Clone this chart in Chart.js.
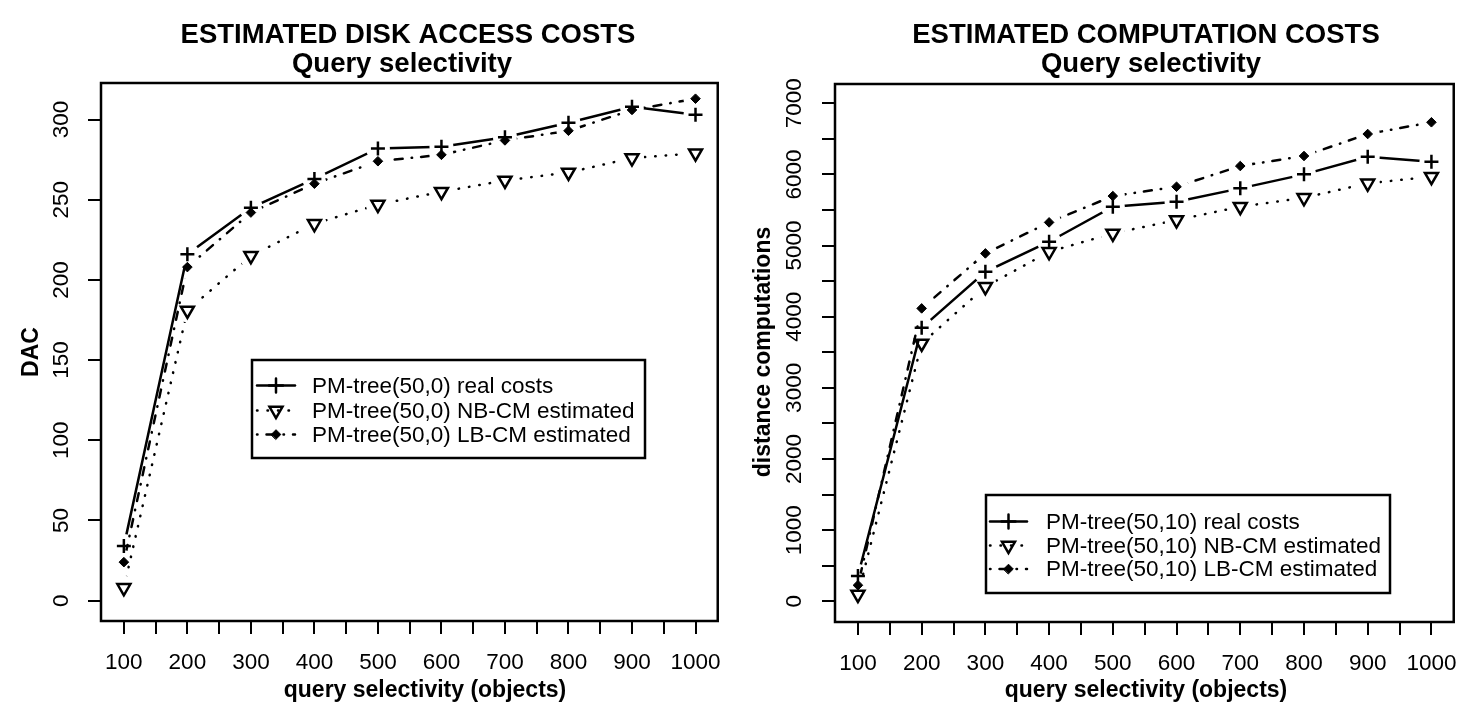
<!DOCTYPE html>
<html>
<head>
<meta charset="utf-8">
<script src="https://cdn.jsdelivr.net/npm/chart.js@4.4.1/dist/chart.umd.min.js"></script>
<style>
  html, body { margin: 0; padding: 0; background: #fff; }
  .panel { position: absolute; top: 0; width: 736px; height: 728px; }
</style>
</head>
<body>
<div class="panel" style="left:0"><canvas id="dacChart" width="736" height="728"></canvas></div>
<div class="panel" style="left:736px"><canvas id="compChart" width="736" height="728"></canvas></div>
<script>
// query selectivity (objects)
const selectivity = [100, 200, 300, 400, 500, 600, 700, 800, 900, 1000];
const xTickValues = [100, 150, 200, 250, 300, 350, 400, 450, 500, 550, 600, 650, 700, 750, 800, 850, 900, 950, 1000];

// disk access costs
const dacReal = [34, 216, 245, 263, 282, 283, 289, 298, 308, 303];
const dacNB   = [8, 181, 215, 235, 247, 255, 262, 267, 276, 279];
const dacLB   = [24, 208, 242, 260, 274, 278, 287, 293, 306, 313];
const dacTicks = [0, 50, 100, 150, 200, 250, 300];

// distance computations
const compReal = [356, 3844, 4631, 5054, 5546, 5616, 5804, 6001, 6249, 6179];
const compNB   = [94, 3624, 4421, 4913, 5171, 5359, 5546, 5672, 5875, 5968];
const compLB   = [225, 4117, 4890, 5326, 5696, 5827, 6118, 6259, 6568, 6733];
const compTicks = [0, 500, 1000, 1500, 2000, 2500, 3000, 3500, 4000, 4500, 5000, 5500, 6000, 6500, 7000];

Chart.defaults.font.family = '"Liberation Sans", Arial, Helvetica, sans-serif';
Chart.defaults.color = '#000';

const styles = {
    real: { dash: [], pointStyle: 'cross', radius: 7, rotation: 0, fill: 'rgba(0,0,0,0)', markerWidth: 2.5 },
    nb:   { dash: [0.5, 10], pointStyle: 'triangle', radius: 7.5, rotation: 180, fill: 'rgba(0,0,0,0)', markerWidth: 2.5 },
    lb:   { dash: [0.5, 9, 8, 9], pointStyle: 'rectRot', radius: 4.8, rotation: 0, fill: '#000', markerWidth: 1 }
};

// R type="b": line with gaps around points, then the markers
const makeSeries = (label, values, st) => {
    const pts = selectivity.map((x, i) => ({ x: x, y: values[i] }));
    return [
        {
            label: label, role: 'line', data: pts, style: st,
            borderColor: '#000', borderWidth: 2.5, borderDash: st.dash, borderCapStyle: 'round',
            pointRadius: 0, pointHoverRadius: 0, tension: 0, fill: false, gapRadius: 12
        },
        {
            label: label, role: 'marker', data: pts, showLine: false,
            pointStyle: st.pointStyle, pointRadius: st.radius, pointHoverRadius: st.radius,
            pointRotation: st.rotation, pointBorderColor: '#000', pointBackgroundColor: st.fill,
            pointBorderWidth: st.markerWidth
        }
    ];
};

const gapPlugin = {
    id: 'lineGaps',
    beforeDatasetDraw(chart, args) {
        const ds = chart.data.datasets[args.index];
        if (!ds.gapRadius) return;
        const ctx = chart.ctx;
        ctx.save();
        ctx.beginPath();
        ctx.rect(0, 0, chart.width, chart.height);
        args.meta.data.forEach(p => {
            ctx.moveTo(p.x + ds.gapRadius, p.y);
            ctx.arc(p.x, p.y, ds.gapRadius, 0, Math.PI * 2);
        });
        ctx.clip('evenodd');
    },
    afterDatasetDraw(chart, args) {
        if (chart.data.datasets[args.index].gapRadius) chart.ctx.restore();
    }
};

const framePlugin = {
    id: 'frame',
    afterDatasetsDraw(chart) {
        const a = chart.chartArea, ctx = chart.ctx;
        ctx.save();
        ctx.strokeStyle = '#000';
        ctx.lineWidth = 2.5;
        ctx.strokeRect(a.left, a.top, a.right - a.left, a.bottom - a.top);
        ctx.restore();
    }
};

const textPlugin = {
    id: 'rText',
    afterDraw(chart, args, opts) {
        const ctx = chart.ctx;
        ctx.save();
        ctx.fillStyle = '#000';
        ctx.textAlign = 'center';
        ctx.textBaseline = 'alphabetic';
        opts.items.forEach(t => {
            ctx.font = t.font;
            ctx.save();
            ctx.translate(t.x, t.y);
            if (t.rotate) ctx.rotate(-Math.PI / 2);
            ctx.fillText(t.text, 0, 0);
            ctx.restore();
        });
        ctx.restore();
    }
};

const legendPlugin = {
    id: 'rLegend',
    afterDraw(chart, args, opts) {
        const ctx = chart.ctx;
        const b = opts.box;
        ctx.save();
        ctx.fillStyle = '#fff';
        ctx.fillRect(b[0], b[1], b[2] - b[0], b[3] - b[1]);
        ctx.strokeStyle = '#000';
        ctx.lineWidth = 2.5;
        ctx.strokeRect(b[0], b[1], b[2] - b[0], b[3] - b[1]);
        const entries = chart.data.datasets.filter(d => d.role === 'line');
        entries.forEach((d, i) => {
            const y = opts.rows[i];
            const st = d.style;
            ctx.setLineDash(st.dash);
            ctx.lineCap = 'round';
            ctx.lineWidth = 2.5;
            ctx.beginPath();
            ctx.moveTo(opts.lineX[0], y);
            ctx.lineTo(opts.lineX[1], y);
            ctx.stroke();
            ctx.setLineDash([]);
            ctx.fillStyle = st.fill;
            ctx.lineWidth = st.markerWidth;
            Chart.helpers.drawPoint(ctx, {
                pointStyle: st.pointStyle, rotation: st.rotation, radius: st.radius, borderWidth: st.markerWidth
            }, (opts.lineX[0] + opts.lineX[1]) / 2, y);
            ctx.fillStyle = '#000';
            ctx.font = opts.font;
            ctx.textAlign = 'left';
            ctx.textBaseline = 'middle';
            ctx.fillText(d.label, opts.textX, y + 1);
        });
        ctx.restore();
    }
};

const buildChart = (canvasId, cfg) => new Chart(document.getElementById(canvasId), {
    type: 'line',
    data: { datasets: cfg.datasets },
    options: {
        responsive: false,
        animation: false,
        events: [],
        layout: { padding: { left: 0, top: cfg.top, right: cfg.right, bottom: 0 }, autoPadding: false },
        plugins: {
            legend: { display: false },
            tooltip: { enabled: false },
            rText: { items: cfg.texts },
            rLegend: cfg.legend
        },
        scales: {
            x: {
                type: 'linear', min: 64, max: 1035,
                afterFit: s => { s.height = cfg.xHeight; },
                afterBuildTicks: s => { s.ticks = xTickValues.map(v => ({ value: v })); },
                ticks: {
                    autoSkip: false, maxRotation: 0, padding: 15, font: { size: 22.5 },
                    callback: v => (v % 100 === 0 ? String(v) : '')
                },
                grid: { drawOnChartArea: false, drawTicks: true, tickLength: 13, color: '#000', lineWidth: 2 },
                border: { display: false }
            },
            y: {
                type: 'linear', min: cfg.yMin, max: cfg.yMax,
                afterFit: s => { s.width = cfg.yWidth; },
                afterBuildTicks: s => { s.ticks = cfg.yTicks.map(v => ({ value: v })); },
                ticks: {
                    autoSkip: false, minRotation: 90, maxRotation: 90, crossAlign: 'center',
                    padding: cfg.yPad, font: { size: 22.5 },
                    callback: v => (v % cfg.yLabelStep === 0 ? String(v) : '')
                },
                grid: { drawOnChartArea: false, drawTicks: true, tickLength: 13, color: '#000', lineWidth: 2 },
                border: { display: false }
            }
        }
    },
    plugins: [gapPlugin, framePlugin, legendPlugin, textPlugin]
});

const titleFont = 'bold 27.5px "Liberation Sans", Arial, sans-serif';
const axisFont = 'bold 23px "Liberation Sans", Arial, sans-serif';
const legendFont = '22.5px "Liberation Sans", Arial, sans-serif';

buildChart('dacChart', {
    top: 83, right: 13, yWidth: 101, xHeight: 107,
    yMin: -12.7, yMax: 322.8, yTicks: dacTicks, yLabelStep: 50, yPad: 7,
    datasets: [].concat(
        makeSeries('PM-tree(50,0) real costs', dacReal, styles.real),
        makeSeries('PM-tree(50,0) NB-CM estimated', dacNB, styles.nb),
        makeSeries('PM-tree(50,0) LB-CM estimated', dacLB, styles.lb)
    ),
    texts: [
        { text: 'ESTIMATED DISK ACCESS COSTS', x: 408, y: 43, font: titleFont },
        { text: 'Query selectivity', x: 402, y: 72, font: titleFont },
        { text: 'query selectivity (objects)', x: 425, y: 697, font: axisFont },
        { text: 'DAC', x: 38, y: 352, font: axisFont, rotate: true }
    ],
    legend: {
        box: [252, 360, 645, 458], lineX: [257, 295], textX: 312,
        rows: [385.5, 410.5, 434.5], font: legendFont
    }
});

buildChart('compChart', {
    top: 84, right: 15, yWidth: 99, xHeight: 106,
    yMin: -291, yMax: 7271, yTicks: compTicks, yLabelStep: 1000, yPad: 2,
    datasets: [].concat(
        makeSeries('PM-tree(50,10) real costs', compReal, styles.real),
        makeSeries('PM-tree(50,10) NB-CM estimated', compNB, styles.nb),
        makeSeries('PM-tree(50,10) LB-CM estimated', compLB, styles.lb)
    ),
    texts: [
        { text: 'ESTIMATED COMPUTATION COSTS', x: 410, y: 43, font: titleFont },
        { text: 'Query selectivity', x: 415, y: 72, font: titleFont },
        { text: 'query selectivity (objects)', x: 410, y: 697, font: axisFont },
        { text: 'distance computations', x: 34, y: 352, font: axisFont, rotate: true }
    ],
    legend: {
        box: [250, 495, 654, 593], lineX: [254, 291], textX: 310,
        rows: [521.5, 545.5, 569], font: legendFont
    }
});
</script>
</body>
</html>
